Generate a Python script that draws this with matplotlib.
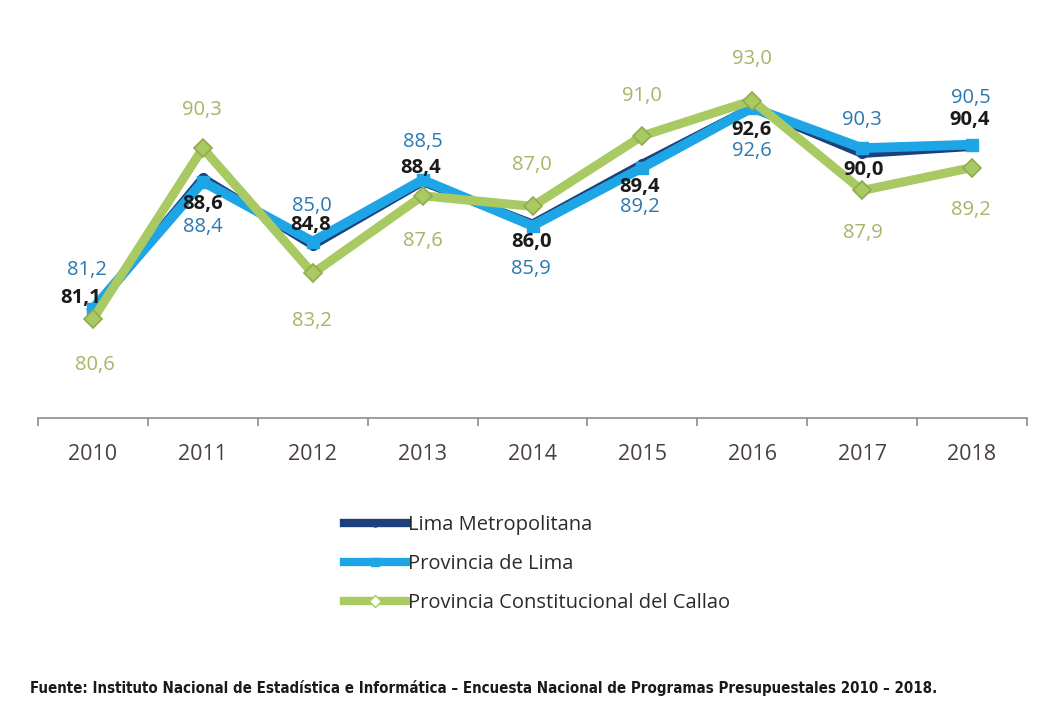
import numpy as np
import matplotlib.pyplot as plt
from matplotlib.lines import Line2D

# Datos
years = ["2010", "2011", "2012", "2013", "2014", "2015", "2016", "2017", "2018"]
lima_metro = [81.1, 88.6, 84.8, 88.4, 86.0, 89.4, 92.6, 90.0, 90.4]
prov_lima = [81.2, 88.4, 85.0, 88.5, 85.9, 89.2, 92.6, 90.3, 90.5]
callao = [80.6, 90.3, 83.2, 87.6, 87.0, 91.0, 93.0, 87.9, 89.2]

names = ["Lima Metropolitana", "Provincia de Lima", "Provincia Constitucional del Callao"]
fuente = ("Fuente: Instituto Nacional de Estadística e Informática – Encuesta Nacional "
          "de Programas Presupuestales 2010 – 2018.")

# posicion de las etiquetas (pixeles respecto al punto)
off_metro = [(-12, 12), (0, -26), (-2, 20), (-2, 14), (-1, -18), (-3, -23), (-1, -22), (1, -17), (-2, 26)]
off_prov = [(-6, 39), (0, -45), (-1, 36), (0, 38), (-2, -43), (-3, -39), (0, -43), (0, 28), (-1, 47)]
off_callao = [(2, -46), (-1, 38), (-1, -48), (0, -45), (-1, 41), (0, 40), (0, 42), (1, -43), (-1, -42)]

C_METRO = "#1d3f7c"
C_PROV = "#1ea5e6"
C_CALLAO = "#a9c962"

plt.rcParams["font.family"] = ["Open Sans", "DejaVu Sans"]

fig = plt.figure(figsize=(10.37, 7.08), dpi=100)
ax = fig.add_axes([38 / 1037, 290 / 708, 989 / 1037, 388 / 708])
x = np.arange(len(years))

ax.plot(x, lima_metro, color=C_METRO, lw=6.5, marker="o", ms=7, zorder=2, solid_joinstyle="round")
ax.plot(x, prov_lima, color=C_PROV, lw=7, marker="s", ms=9, zorder=3, solid_joinstyle="round")
ax.plot(x, callao, color=C_CALLAO, lw=6.5, marker="D", ms=9, mec="#93a94e", mew=1.2,
        zorder=4, solid_joinstyle="round")

def fmt(v):
    return f"{v:.1f}".replace(".", ",")

for i in range(len(years)):
    ax.annotate(fmt(lima_metro[i]), (x[i], lima_metro[i]), xytext=off_metro[i],
                textcoords="offset pixels", ha="center", va="center", fontsize=14.5,
                fontweight="bold", color="#1a1a1a", zorder=6)
    ax.annotate(fmt(prov_lima[i]), (x[i], prov_lima[i]), xytext=off_prov[i],
                textcoords="offset pixels", ha="center", va="center", fontsize=14.5,
                color="#2a78b0", zorder=6)
    ax.annotate(fmt(callao[i]), (x[i], callao[i]), xytext=off_callao[i],
                textcoords="offset pixels", ha="center", va="center", fontsize=14.5,
                color="#a3b766", zorder=6)

ax.set_xlim(-0.5, len(years) - 0.5)
ax.set_ylim(75, 97)
ax.set_yticks([])
for s in ["top", "right", "left"]:
    ax.spines[s].set_visible(False)
ax.spines["bottom"].set_color("#8c8c8c")
ax.spines["bottom"].set_linewidth(1.2)
ax.set_xticks(x)
ax.set_xticklabels(years, fontsize=15.5, color="#4a3f3f")
ax.tick_params(axis="x", which="major", length=0, pad=19)
ax.set_xticks(np.arange(len(years) + 1) - 0.5, minor=True)
ax.tick_params(axis="x", which="minor", length=6, color="#8c8c8c", width=1.2)

handles = [
    Line2D([], [], color=C_METRO, lw=6, marker="o", ms=5),
    Line2D([], [], color=C_PROV, lw=6, marker="s", ms=6),
    Line2D([], [], color=C_CALLAO, lw=6, marker="D", ms=6, mfc="white", mec=C_CALLAO),
]
leg = fig.legend(handles, names, loc="upper left", bbox_to_anchor=(326 / 1037, 1 - 497 / 708),
                 frameon=False, fontsize=14.5, handlelength=3.1, handletextpad=0.05,
                 labelspacing=0.95, markerfirst=True)
for t in leg.get_texts():
    t.set_color("#2b2b2b")

fig.text(30 / 1037, 1 - 688 / 708, fuente, fontsize=10.85, fontweight="bold",
         fontstretch="condensed", color="#1a1a1a", va="center",
         family=["DejaVu Sans", "Liberation Sans"])

fig.savefig("out.png", dpi=100)
